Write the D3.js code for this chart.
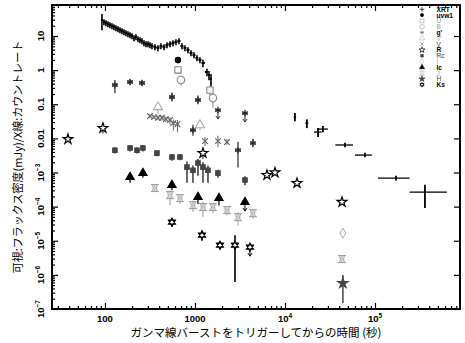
<!DOCTYPE html>
<html><head><meta charset="utf-8">
<script src="https://cdn.jsdelivr.net/npm/d3@7"></script>
<style>body{margin:0;background:#fff}svg{display:block}</style>
</head><body><svg id="c" width="465" height="343"></svg>
<script>
// ---------------- DATA ----------------
// XRT, dense early part (time s, count rate, relative error)
const xrtT = [92.6,97.5,102.6,108,113.6,119.6,125.9,132.5,139.5,146.8,154.5,162.6,171.1,180.1,189.6,199.5,210,221,232.6,244.8,257.7,271.3,285.5,300.5,316.2,332.8,359.4,388,419,452.5,488.6,527.6,569.6,615,664,717,774,836,903,975,1052,1136,1227,1359,1431,1506];
const xrtV = [29.5,25.7,24.0,22.5,21.0,19.6,18.4,17.2,16.0,15.0,14.0,13.1,12.2,11.4,10.7,10.0,8.74,9.35,8.17,7.63,7.13,6.23,5.82,5.82,5.44,5.09,4.76,4.45,5.09,4.76,5.44,5.82,6.23,6.67,7.13,5.09,4.45,3.88,3.17,2.77,2.26,1.98,1.62,0.88,0.72,0.55];
const xrtErr = [0.5,0.2,0.2,0.2,0.2,0.2,0.2,0.2,0.2,0.2,0.2,0.2,0.2,0.2,0.2,0.2,0.2,0.2,0.2,0.2,0.2,0.2,0.2,0.2,0.2,0.2,0.2,0.2,0.2,0.2,0.2,0.2,0.2,0.2,0.2,0.2,0.2,0.2,0.2,0.2,0.2,0.2,0.25,0.25,0.3,0.4];
// XRT, late binned points
const xrtLateT  = [12900, 17500, 23300, 26400, 46400, 77400, 171000, 359000];
const xrtLateTLo= [12500, 16800, 21000, 23000, 36300, 59900, 108000, 242000];
const xrtLateTHi= [13300, 18200, 25500, 30000, 57000, 92300, 242000, 628000];
const xrtLateV  = [0.042, 0.028, 0.0153, 0.0187, 0.0064, 0.00324, 0.000686, 0.000266];
const xrtLateVLo= [0.032, 0.020, 0.011, 0.015, 0.0055, 0.0028, 0.00058, 0.000091];
const xrtLateVHi= [0.055, 0.036, 0.020, 0.023, 0.0075, 0.0038, 0.00080, 0.000437];

const uvw1T = [647], uvw1V = [1.98], uvw1Lo = [1.6], uvw1Hi = [2.4];
const uT = [647, 1468], uV = [1.01, 0.26], uLo = [0.8, 0.18], uHi = [1.25, 0.35];
const bT = [699, 1585], bV = [0.513, 0.152], bLo = [0.35, 0.08], bHi = [0.62, 0.2];
const gT  = [129, 190, 258, 555, 1080, 950, 3006, 4409];
const gV  = [0.366, 0.448, 0.419, 0.163, 0.133, 0.0175, 0.0045, 0.0073];
const gLo = [0.21, 0.37, 0.34, 0.12, 0.10, 0.012, 0.0014, 0.0055];
const gHi = [0.51, 0.53, 0.50, 0.22, 0.18, 0.025, 0.008, 0.0098];
const gUlT = [1801, 3594], gUlV = [0.0676, 0.0552];
const vpT = [388, 1136], vpV = [0.083, 0.0245], vpLo = [0.05, 0.017], vpHi = [0.11, 0.032];
const vT  = [316, 350, 388, 430, 475, 528, 575, 640, 1292, 1801, 2268];
const vV  = [0.045, 0.042, 0.040, 0.040, 0.0368, 0.0344, 0.028, 0.026, 0.0083, 0.0083, 0.0078];
const vLo = [0.04, 0.037, 0.034, 0.033, 0.03, 0.025, 0.017, 0.015, 0.006, 0.0055, 0.0065];
const vHi = [0.05, 0.047, 0.047, 0.047, 0.043, 0.042, 0.036, 0.034, 0.011, 0.012, 0.0095];
const rT  = [38.8, 95, 1227, 6310, 7740, 13600, 43000];
const rV  = [0.0095, 0.020, 0.0037, 0.00084, 0.0010, 0.00049, 0.000136];
const rLo = [0.0085, 0.014, 0.0025, 0.00072, 0.00088, 0.00042, 0.00012];
const rHi = [0.0106, 0.028, 0.0052, 0.00098, 0.00115, 0.00057, 0.00015];
const rcT  = [129, 190, 227, 264, 378, 555, 681, 815, 950, 1080, 1227, 1395, 1801, 3594];
const rcV  = [0.0045, 0.0052, 0.0045, 0.0052, 0.0037, 0.00283, 0.00283, 0.00144, 0.00117, 0.00189, 0.00144, 0.00117, 0.00096, 0.0006];
const rcLo = [0.0036, 0.0041, 0.0036, 0.0041, 0.003, 0.0022, 0.0023, 0.0005, 0.0005, 0.0008, 0.0005, 0.0005, 0.0007, 0.00042];
const rcHi = [0.0055, 0.0064, 0.0055, 0.0064, 0.0045, 0.0035, 0.0034, 0.0021, 0.0016, 0.0025, 0.002, 0.0016, 0.0012, 0.00078];
const iT = [44000], iV = [1.67e-5], iLo = [1.3e-5], iHi = [2.1e-5];
const icT  = [190, 264, 555, 1080, 1848];
const icV  = [0.00073, 0.00096, 0.00043, 0.00019, 0.000177];
const icLo = [0.0005, 0.0007, 0.0003, 0.00012, 0.00011];
const icHi = [0.00095, 0.0012, 0.00055, 0.00025, 0.00024];
const icUlT = [3594], icUlV = [0.000136];
const jT  = [359, 528, 681, 950, 1227, 1585, 2268, 3006, 4409, 43000];
const jV  = [3.5e-4, 2.17e-4, 1.77e-4, 1.1e-4, 9.7e-5, 9.7e-5, 7.9e-5, 4.9e-5, 6.4e-5, 2.9e-6];
const jLo = [2.8e-4, 1.1e-4, 1.2e-4, 7e-5, 5e-5, 6.5e-5, 5.5e-5, 2.8e-5, 4.5e-5, 2.2e-6];
const jHi = [4.2e-4, 3e-4, 2.3e-4, 1.5e-4, 1.4e-4, 1.3e-4, 1.05e-4, 7e-5, 8.5e-5, 3.7e-6];
const hT = [44000], hV = [5.7e-7], hLo = [1.5e-7], hHi = [9.9e-7];
const ksT  = [555, 1196, 1896, 2783];
const ksV  = [3.5e-5, 1.46e-5, 7.4e-6, 7.4e-6];
const ksLo = [2.6e-5, 1.0e-5, 5.6e-6, 6.2e-7];
const ksHi = [4.5e-5, 2.0e-5, 9.5e-6, 1.46e-5];
const ksUlT = [4084], ksUlV = [6.5e-6];

const xMajor = [100, 1000, 1e4, 1e5];
const xLabels = [["100",""],["1000",""],["10","4"],["10","5"]];
const yMajor = [1e-7,1e-6,1e-5,1e-4,1e-3,0.01,0.1,1,10];
const yLabels = [["10","−7"],["10","−6"],["10","−5"],["10","−4"],["10","−3"],["0.01",""],["0.1",""],["1",""],["10",""]];
const legendNames = ["XRT","uvw1","U","B","g'","V'","V","R","Rc","I","Ic","J","H","Ks"];

// ---------------- CHART ----------------
const svg = d3.select("#c");
const L=52, R=460, T=5, B=309;
const x = d3.scaleLog().domain([25.8, 8.8e5]).range([L, R]);
const y = d3.scaleLog().domain([1e-7, 81]).range([B, T]);

const FONT = "'Liberation Sans', Arial, 'Noto Sans CJK JP', sans-serif";
const JFONT = "'Noto Sans CJK JP', 'Liberation Sans', sans-serif";

const xMinor = [];
for (let e = 1; e <= 5; e++) for (let k = 2; k <= 9; k++) { const v = k*Math.pow(10,e); if (v > 25.8 && v < 8.8e5) xMinor.push(v); }
const yMinor = [];
for (let e = -7; e <= 1; e++) for (let k = 2; k <= 9; k++) { const v = k*Math.pow(10,e); if (v < 81) yMinor.push(v); }

function axisLines(gen, tr, vals, size) {
  svg.append("g").attr("transform", tr)
    .call(gen.tickValues(vals).tickSize(size).tickFormat(""))
    .call(g => g.select(".domain").remove())
    .call(g => g.selectAll("line").attr("stroke","#000").attr("stroke-width",1.2));
}
axisLines(d3.axisBottom(x), `translate(0,${B})`, xMajor, -6);
axisLines(d3.axisBottom(x), `translate(0,${B})`, xMinor, -3);
axisLines(d3.axisTop(x), `translate(0,${T})`, xMajor, -6);
axisLines(d3.axisTop(x), `translate(0,${T})`, xMinor, -3);
axisLines(d3.axisLeft(y), `translate(${L},0)`, yMajor, -6);
axisLines(d3.axisLeft(y), `translate(${L},0)`, yMinor, -3);
axisLines(d3.axisRight(y), `translate(${R},0)`, yMajor, -6);

svg.append("rect").attr("x",L).attr("y",T).attr("width",R-L).attr("height",B-T)
  .attr("fill","none").attr("stroke","#000").attr("stroke-width",2);

xMajor.forEach((v,i) => {
  const t = svg.append("text").attr("x", x(v)).attr("y", 322).attr("text-anchor","middle")
    .attr("font-family",FONT).attr("font-size",9.5).attr("font-weight","bold").attr("fill","#000");
  t.append("tspan").text(xLabels[i][0]);
  if (xLabels[i][1]) t.append("tspan").attr("dy",-4).attr("font-size",6.5).text(xLabels[i][1]);
});
yMajor.forEach((v,i) => {
  const t = svg.append("text").attr("transform",`translate(43.5,${y(v)}) rotate(-90)`)
    .attr("text-anchor","middle").attr("font-family",FONT).attr("font-size",9.5).attr("font-weight","bold").attr("fill","#000");
  t.append("tspan").text(yLabels[i][0]);
  if (yLabels[i][1]) t.append("tspan").attr("dy",-4).attr("font-size",6.5).text(yLabels[i][1]);
});
svg.append("text").attr("x",256).attr("y",337).attr("text-anchor","middle").attr("fill","#000")
  .attr("font-family",JFONT).attr("font-size",11.5).text("ガンマ線バーストをトリガーしてからの時間 (秒)");
svg.append("text").attr("transform","translate(22,157) rotate(-90)").attr("text-anchor","middle").attr("fill","#000")
  .attr("font-family",JFONT).attr("font-size",11).text("可視:フラックス密度(mJy)/X線:カウントレート");

// ---------- symbols ----------
const COL = {xrt:"#000", uvw1:"#000", u:"#8a8a8a", b:"#8a8a8a", g:"#2a2a2a", vp:"#aaaaaa", v:"#666", r:"#000", rc:"#444", i:"#aaaaaa", ic:"#000", j:"#9a9a9a", h:"#444", ks:"#000"};
const plot = svg.append("g");

function drawSym(g, type, cx, cy, k, col) {
  const gg = g.append("g").attr("transform",`translate(${cx},${cy}) scale(${k})`);
  const sym = (t, size, fill, sw) => gg.append("path").attr("d", d3.symbol().type(t).size(size)())
      .attr("fill", fill ? col : "#fff").attr("stroke", col).attr("stroke-width", sw||1.1);
  switch(type) {
    case "plus": gg.append("path").attr("d","M-4,0H4M0,-4V4").attr("stroke",col).attr("stroke-width",1.2); break;
    case "dot": sym(d3.symbolCircle, 22, true); break;
    case "square": sym(d3.symbolSquare, 40, false); break;
    case "circle": sym(d3.symbolCircle, 45, false); break;
    case "asterisk": gg.append("path").attr("d", d3.symbol().type(d3.symbolAsterisk).size(28)()).attr("fill","none").attr("stroke",col).attr("stroke-width",1.3);
                     gg.append("path").attr("d","M-3,0H3").attr("stroke",col).attr("stroke-width",1.3); break;
    case "triangle": sym(d3.symbolTriangle, 36, false); break;
    case "times": gg.append("path").attr("d", d3.symbol().type(d3.symbolTimes).size(22)()).attr("fill","none").attr("stroke",col).attr("stroke-width",1.2); break;
    case "star": sym(d3.symbolStar, 30, false, 1.2); break;
    case "sqfill": sym(d3.symbolSquare, 20, true); break;
    case "diamond": gg.append("path").attr("d","M0,-5L3,0L0,5L-3,0Z").attr("fill","#fff").attr("stroke",col).attr("stroke-width",1); break;
    case "trifill": sym(d3.symbolTriangle, 30, true); break;
    case "jsym": gg.append("path")
        .attr("d","M-4,-3.5H4M-4,3.5H4M-2.3,-3.5Q-1,0 -2.3,3.5M2.3,-3.5Q1,0 2.3,3.5")
        .attr("fill","none").attr("stroke",col).attr("stroke-width",1); break;
    case "starfill": sym(d3.symbolStar, 34, true); break;
    case "hexagram": { const r = 4;
        const tri = a => d3.range(3).map(j => { const ang = a + j*2*Math.PI/3; return [r*Math.sin(ang), -r*Math.cos(ang)]; });
        const p = pts => "M" + pts.map(q=>q.join(",")).join("L") + "Z";
        gg.append("path").attr("d", p(tri(0)) + p(tri(Math.PI))).attr("fill","#fff").attr("stroke",col).attr("stroke-width",1.2); break; }
  }
  return gg;
}

function errBars(ts, lo, hi, col, w) {
  ts.forEach((t,i) => {
    plot.append("line").attr("x1",x(t)).attr("x2",x(t)).attr("y1",y(lo[i])).attr("y2",y(hi[i]))
      .attr("stroke",col).attr("stroke-width",w||1.2);
  });
}
function series(ts, vs, type, col) {
  ts.forEach((t,i) => drawSym(plot, type, x(t), y(vs[i]), 1, col));
}
function upperLimits(ts, vs, type, col) {
  ts.forEach((t,i) => {
    const cx = x(t), cy = y(vs[i]);
    plot.append("path").attr("d",`M${cx},${cy}V${cy+9}M${cx-2},${cy+6}L${cx},${cy+9}L${cx+2},${cy+6}`)
      .attr("fill","none").attr("stroke",col).attr("stroke-width",1);
    drawSym(plot, type, cx, cy, 1, col);
  });
}

// XRT dense
xrtT.forEach((t,i) => {
  const prev = i>0 ? Math.sqrt(xrtT[i-1]*t) : t*0.975;
  const next = i<xrtT.length-1 ? Math.sqrt(xrtT[i+1]*t) : t*1.025;
  const v = xrtV[i], e = xrtErr[i];
  plot.append("line").attr("x1",x(prev)).attr("x2",x(next)).attr("y1",y(v)).attr("y2",y(v)).attr("stroke","#000").attr("stroke-width",2);
  plot.append("line").attr("x1",x(t)).attr("x2",x(t)).attr("y1",y(v*(1-e))).attr("y2",y(v*(1+e))).attr("stroke","#000").attr("stroke-width",1.6);
});
xrtLateT.forEach((t,i) => {
  plot.append("line").attr("x1",x(xrtLateTLo[i])).attr("x2",x(xrtLateTHi[i])).attr("y1",y(xrtLateV[i])).attr("y2",y(xrtLateV[i])).attr("stroke","#000").attr("stroke-width",1.3);
  plot.append("line").attr("x1",x(t)).attr("x2",x(t)).attr("y1",y(xrtLateVLo[i])).attr("y2",y(xrtLateVHi[i])).attr("stroke","#000").attr("stroke-width",1.8);
});

errBars(jT, jLo, jHi, COL.j, 1);
series(jT, jV, "jsym", COL.j);
errBars(rcT, rcLo, rcHi, COL.rc, 1.6);
series(rcT, rcV, "sqfill", COL.rc);
errBars(icT, icLo, icHi, COL.ic, 1.2);
series(icT, icV, "trifill", COL.ic);
upperLimits(icUlT, icUlV, "trifill", COL.ic);
errBars(vT, vLo, vHi, COL.v, 1);
series(vT, vV, "times", COL.v);
errBars(vpT, vpLo, vpHi, COL.vp, 1);
series(vpT, vpV, "triangle", COL.vp);
errBars(gT, gLo, gHi, COL.g, 1.2);
series(gT, gV, "asterisk", COL.g);
upperLimits(gUlT, gUlV, "asterisk", COL.g);
errBars(rT, rLo, rHi, COL.r, 1);
series(rT, rV, "star", COL.r);
errBars(uT, uLo, uHi, COL.u, 1);
series(uT, uV, "square", COL.u);
errBars(bT, bLo, bHi, COL.b, 1);
series(bT, bV, "circle", COL.b);
errBars(uvw1T, uvw1Lo, uvw1Hi, COL.uvw1, 1.2);
series(uvw1T, uvw1V, "dot", COL.uvw1);
errBars(iT, iLo, iHi, COL.i, 1);
series(iT, iV, "diamond", COL.i);
errBars(hT, hLo, hHi, COL.h, 1.5);
series(hT, hV, "starfill", COL.h);
errBars(ksT, ksLo, ksHi, COL.ks, 1.6);
series(ksT, ksV, "hexagram", COL.ks);
upperLimits(ksUlT, ksUlV, "hexagram", COL.ks);

// ---------- legend ----------
const legTypes = ["plus","dot","square","circle","asterisk","triangle","times","star","sqfill","diamond","trifill","jsym","starfill","hexagram"];
const legSymCol = [COL.xrt,COL.uvw1,"#aaa","#aaa","#777","#bbb","#777",COL.r,COL.rc,"#bbb",COL.ic,"#aaa",COL.h,COL.ks];
const legTxtCol = ["#000","#000","#999","#999","#000","#bbb","#555","#000","#444","#aaa","#000","#aaa","#444","#000"];
const legBold = [1,1,0,0,1,0,0,1,0,0,1,0,0,1];
const leg = svg.append("g");
legendNames.forEach((n,i) => {
  const yy = 9.3 + i*5.8;
  drawSym(leg, legTypes[i], 422, yy, 0.6, legSymCol[i]);
  leg.append("text").attr("x",436.5).attr("y",yy+2.4).attr("font-family",FONT).attr("font-size",6.6)
    .attr("font-weight", legBold[i] ? "bold" : "normal").attr("fill",legTxtCol[i]).text(n);
});
</script></body></html>
